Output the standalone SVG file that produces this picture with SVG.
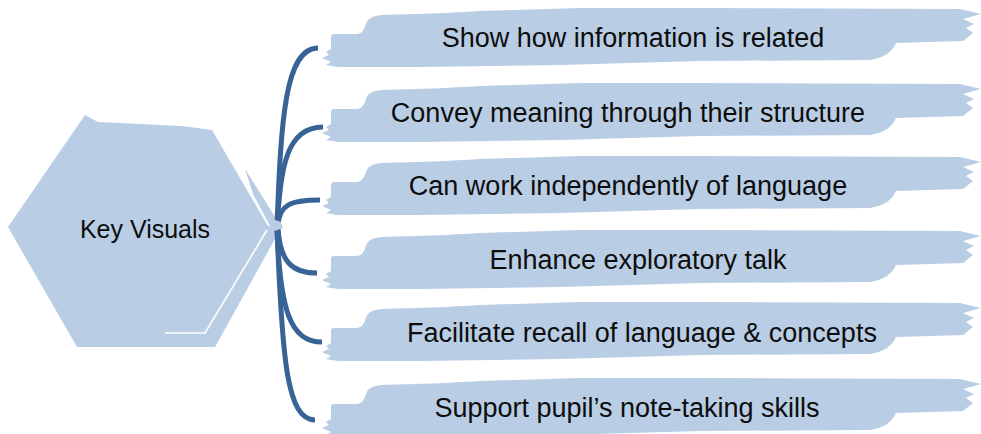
<svg xmlns="http://www.w3.org/2000/svg" xmlns:xlink="http://www.w3.org/1999/xlink" width="981" height="434" viewBox="0 0 981 434">
  <style>
    .fill { fill: #b9cde5; }
    .label { font-family: "Liberation Sans", Arial, sans-serif; font-size: 27px; fill: #0d0d0d; text-anchor: middle; }
    .hub { font-size: 25px; }
    .link { fill: none; stroke: #386396; stroke-width: 5; stroke-linecap: butt; }
    .seam { fill: none; stroke: #ffffff; stroke-width: 1.6; }
  </style>
  <defs>
    <!-- brush-stroke banner, drawn at the first row's position -->
    <path id="brush" class="fill" d="M 331 37 Q 331 34 334 34 L 356 34 C 362 34 364 30 366 24 C 368 18 372 16 382 15 C 420 14 450 13 480 11 L 580 8 L 700 8 L 960 9 L 981 14 L 963 19 L 974 24 L 966 28 L 973 33 L 963 41 L 896 43 C 892 52 884 58 870 60 L 700 61 L 560 65 L 420 67 L 338 67 L 326 65 L 331 62 L 322 58 L 329 55 L 326 52 L 331 49 Z"/>
  </defs>

  <!-- central hexagon -->
  <g id="key-visuals">
    <polygon class="fill" points="8,227 85,115 98,122 182,126 212,130 268,226 280,230 215,347 77,347"/>
    <polygon class="fill" points="245,169 282,228 271,228 253,194"/>
    <polyline class="seam" points="267,230 205,333 165,333"/>
    <text class="label hub" x="145" y="238">Key Visuals</text>
  </g>

  <!-- connectors from the hexagon to each banner -->
  <g id="connectors">
    <path class="link" d="M 277 226 C 281 120 285 48 318 48"/>
    <path class="link" d="M 277 226 C 281 170 285 127 323 127"/>
    <path class="link" d="M 278 224 C 280 205 290 200 320 200"/>
    <path class="link" d="M 278 228 C 280 262 292 273 317 273"/>
    <path class="link" d="M 277 228 C 280 310 290 342 322 342"/>
    <path class="link" d="M 277 228 C 282 360 287 420 315 420"/>
    <polygon class="fill" points="272,219 281,222 283,228 275,231 271,226"/>
  </g>

  <g id="item-1">
    <use xlink:href="#brush"/>
    <text class="label" x="633" y="47">Show how information is related</text>
  </g>
  <g id="item-2">
    <use xlink:href="#brush" y="75"/>
    <text class="label" x="628" y="122">Convey meaning through their structure</text>
  </g>
  <g id="item-3">
    <use xlink:href="#brush" y="148"/>
    <text class="label" x="628" y="195">Can work independently of language</text>
  </g>
  <g id="item-4">
    <use xlink:href="#brush" y="222"/>
    <text class="label" x="638" y="269">Enhance exploratory talk</text>
  </g>
  <g id="item-5">
    <use xlink:href="#brush" y="294"/>
    <text class="label" x="642" y="342">Facilitate recall of language &amp; concepts</text>
  </g>
  <g id="item-6">
    <use xlink:href="#brush" y="370"/>
    <text class="label" x="627" y="417">Support pupil’s note-taking skills</text>
  </g>
</svg>
